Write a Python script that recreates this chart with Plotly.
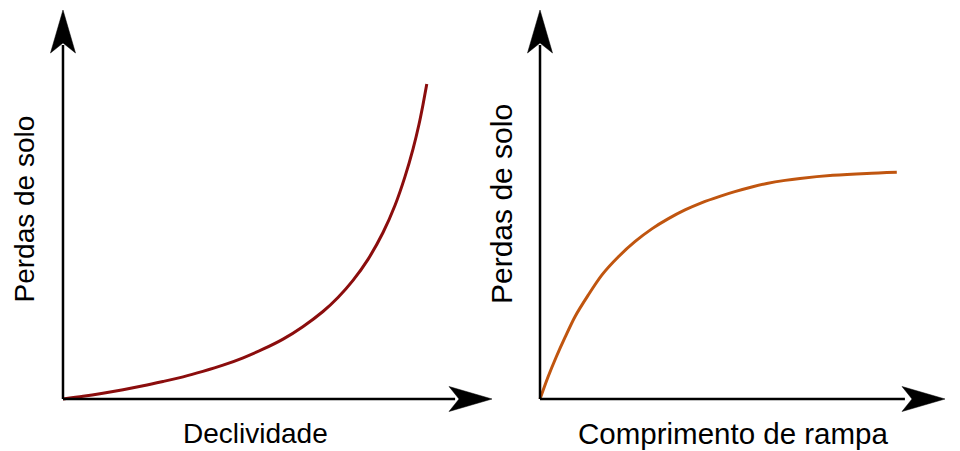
import plotly.graph_objects as go

# Data (arbitrary units, 0-100 on each axis)
slope_x = [0, 4.7, 9.3, 14.0, 18.7, 23.3, 28.0, 32.6, 37.3, 42.0, 46.6, 51.3, 55.9,
           60.6, 64.1, 67.6, 71.1, 74.6, 77.4, 79.7, 81.6, 83.0, 83.9, 84.8]
slope_loss = [0, 0.7, 1.5, 2.4, 3.4, 4.5, 5.7, 7.1, 8.7, 10.6, 12.8, 15.4, 18.6,
              22.5, 26.1, 30.5, 35.9, 42.8, 49.8, 57.1, 64.3, 70.7, 75.6, 81.0]
ramp_x = [0, 2.0, 4.0, 6.2, 8.6, 11.9, 15.3, 19.3, 23.5, 27.7, 31.6, 35.8, 40.0,
          44.4, 48.1, 52.3, 56.0, 60.5, 64.2, 72.3, 80.7, 88.1]
ramp_loss = [0, 5.7, 10.8, 15.9, 21.1, 26.7, 31.9, 36.5, 40.5, 43.8, 46.3, 48.6, 50.5,
             52.1, 53.3, 54.5, 55.4, 56.2, 56.7, 57.5, 58.0, 58.3]

y_label = "Perdas de solo"
x_label_left = "Declividade"
x_label_right = "Comprimento de rampa"

W, H = 960, 451
FONT = "Liberation Sans, Arial, sans-serif"

fig = go.Figure()
fig.add_trace(go.Scatter(x=slope_x, y=slope_loss, mode="lines", xaxis="x", yaxis="y",
                         line=dict(color="#8b0d0d", width=3, shape="spline", smoothing=0.8,
                                   simplify=False),
                         hoverinfo="skip", showlegend=False))
fig.add_trace(go.Scatter(x=ramp_x, y=ramp_loss, mode="lines", xaxis="x2", yaxis="y2",
                         line=dict(color="#c0550f", width=3, shape="spline", smoothing=0.8,
                                   simplify=False),
                         hoverinfo="skip", showlegend=False))

common = dict(visible=False, fixedrange=True, showgrid=False, zeroline=False)
# Ranges extend slightly below zero so axis lines and arrowheads are not clipped
fig.update_layout(
    width=W, height=H, autosize=False,
    margin=dict(l=0, r=0, t=0, b=0),
    paper_bgcolor="white", plot_bgcolor="white",
    xaxis=dict(domain=[46 / W, 492 / W], range=[-3.96, 100], **common),
    yaxis=dict(domain=[35 / H, 441 / H], range=[-4.37, 100], **common),
    xaxis2=dict(domain=[523 / W, 945 / W], range=[-4.2, 100], anchor="y2", **common),
    yaxis2=dict(domain=[35 / H, 441 / H], range=[-4.37, 100], anchor="x2", **common),
)

shapes = []
up_arrow = "M0,0 L-12.5,-43 L0,-33 L12.5,-43 Z"
right_arrow = "M0,0 L-43,12.5 L-33,0 L-43,-12.5 Z"
for xr, yr, xend in (("x", "y", 91.4), ("x2", "y2", 90.1)):
    shapes.append(dict(type="line", xref=xr, yref=yr, x0=0, y0=0, x1=0, y1=91,
                       line=dict(color="black", width=2.5)))
    shapes.append(dict(type="line", xref=xr, yref=yr, x0=0, y0=0, x1=xend, y1=0,
                       line=dict(color="black", width=2.5)))
    shapes.append(dict(type="path", xref=xr, yref=yr, xsizemode="pixel", ysizemode="pixel",
                       xanchor=0, yanchor=100, path=up_arrow,
                       fillcolor="black", line=dict(color="black", width=0.5)))
    shapes.append(dict(type="path", xref=xr, yref=yr, xsizemode="pixel", ysizemode="pixel",
                       xanchor=100, yanchor=0, path=right_arrow,
                       fillcolor="black", line=dict(color="black", width=0.5)))
fig.update_layout(shapes=shapes)

ann = [
    dict(text=y_label, x=24.5 / W, y=1 - 209 / H, textangle=-90, size=28),
    dict(text=y_label, x=501 / W, y=1 - 204 / H, textangle=-90, size=30),
    dict(text=x_label_left, x=255 / W, y=1 - 433.5 / H, size=28),
    dict(text=x_label_right, x=733 / W, y=1 - 433.5 / H, size=29.5),
]
for a in ann:
    s = a.pop("size")
    a.update(xref="paper", yref="paper", xanchor="center", yanchor="middle",
             showarrow=False, font=dict(family=FONT, size=s, color="black"))
fig.update_layout(annotations=ann)

fig.write_html("out.html", config={"displayModeBar": False, "staticPlot": True},
               post_script="document.body.style.margin='0';")
